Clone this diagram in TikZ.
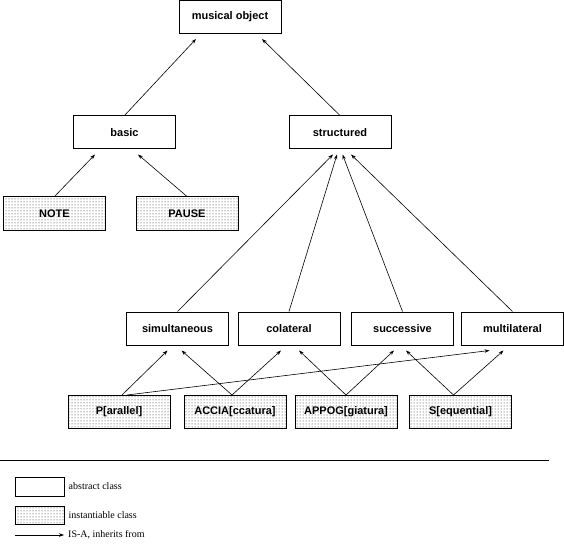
\documentclass[tikz,border=0pt]{standalone}
\usepackage{fontspec}
\setmainfont{Liberation Serif}
\newfontfamily\labelfont{Liberation Sans}
\usetikzlibrary{arrows.meta, patterns}

\tikzset{
	abstract/.style={draw, line width=1pt, minimum width=102pt, minimum height=33pt, inner sep=0pt, font=\labelfont\bfseries\fontsize{11}{13}\selectfont},
	instant/.style={abstract, pattern=dots, pattern color=black!85},
	isa/.style={-{Stealth[length=5pt, width=3.5pt]}, line width=0.6pt},
	key/.style={anchor=west, inner sep=0pt, font=\fontsize{10}{12}\selectfont},
}

\begin{document}
\begin{tikzpicture}[x=1pt, y=-1pt]
	\useasboundingbox (0, 0) rectangle (564, 553);
	% the classes
	\node [abstract] (object) at (230, 17) {musical object};
	\node [abstract] (basic) at (124.5, 132.5) {basic};
	\node [abstract] (struct) at (340, 132.5) {structured};
	\node [instant] (note) at (54.5, 213.5) {NOTE};
	\node [instant] (pause) at (187, 213.5) {PAUSE};
	\node [abstract] (simul) at (177.5, 328.5) {simultaneous};
	\node [abstract] (colat) at (289, 328.5) {colateral};
	\node [abstract] (succ) at (402.5, 328.5) {successive};
	\node [abstract] (multi) at (512.5, 328.5) {multilateral};
	\node [instant] (par) at (119, 412) {P[arallel]};
	\node [instant] (accia) at (235, 412) {ACCIA[ccatura]};
	\node [instant] (appog) at (346, 412) {APPOG[giatura]};
	\node [instant] (seq) at (460.5, 412) {S[equential]};

	% is-a links
	\draw [isa] (basic.north) -- ([xshift=-34pt, yshift=-5pt] object.south);
	\draw [isa] (struct.north) -- ([xshift=32pt, yshift=-5pt] object.south);
	\draw [isa] (note.north) -- ([xshift=-29.5pt, yshift=-5pt] basic.south);
	\draw [isa] (pause.north) -- ([xshift=13.5pt, yshift=-5pt] basic.south);
	\foreach \from/\dx in {simul/-7, colat/-3, succ/2.5, multi/11} {
		\draw [isa] (\from.north) -- ([xshift=\dx pt, yshift=-5pt] struct.south);
	}
	\foreach \from/\sx/\to/\dx in {par/3/simul/-10, accia/-3/simul/4, accia/-3/colat/-8, appog/0/colat/10,
		appog/0/succ/-8.5, seq/-7/succ/3.5, par/8/multi/-23, seq/-7/multi/-9} {
		\draw [isa] ([xshift=\sx pt] \from.north) -- ([xshift=\dx pt, yshift=-5pt] \to.south);
	}

	% legend
	\draw [line width=1pt] (0, 460) -- (549, 460);
	\node [abstract, minimum width=49pt, minimum height=19pt] (key-abs) at (39.5, 486.5) {};
	\node [key] (key-abs-text) at ([xshift=4pt] key-abs.east) {abstract class};
	\node [instant, minimum width=49pt, minimum height=18pt] (key-inst) at (39.5, 515) {};
	\node [key] (key-inst-text) at ([xshift=4pt] key-inst.east) {instantiable class};
	\coordinate (key-isa) at (15, 535);
	\node [key] (key-isa-text) at (68, 535) {IS-A, inherits from};
	\draw [isa] (key-isa) -- ([xshift=-4pt] key-isa-text.west);
\end{tikzpicture}
\end{document}
